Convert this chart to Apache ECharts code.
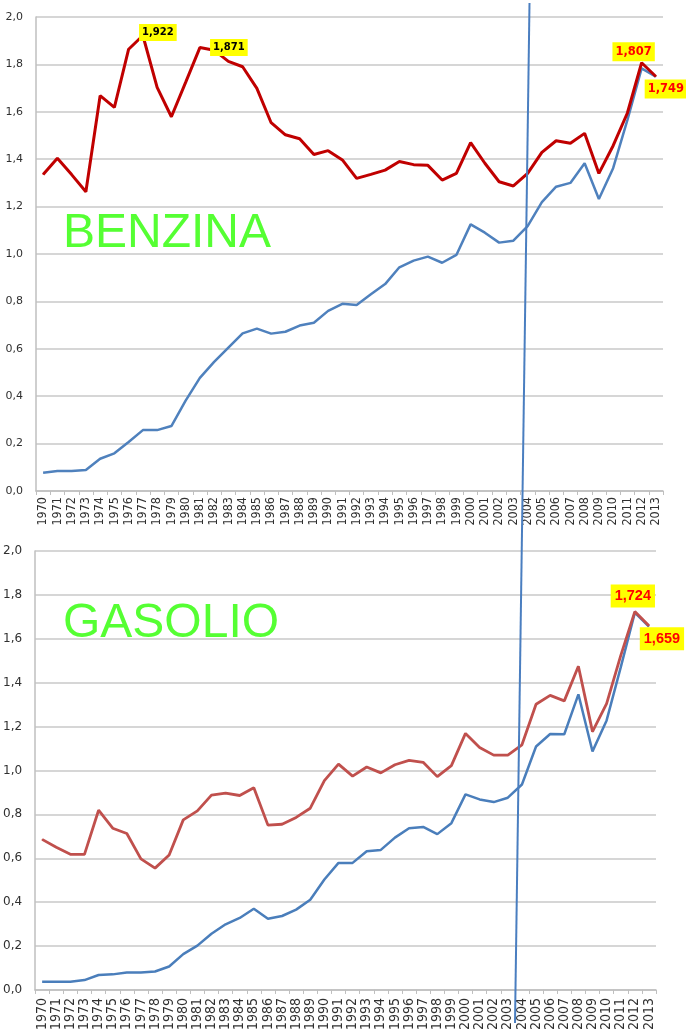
<!DOCTYPE html>
<html>
<head>
<meta charset="utf-8">
<script src="https://cdn.jsdelivr.net/npm/echarts@6/dist/echarts.min.js"></script>
<style>
html, body { margin: 0; padding: 0; background: #fff; }
#main { width: 686px; height: 1033px; }
</style>
</head>
<body>
<div id="main"></div>
<script>
// anni
var years = [];
for (var y = 1970; y <= 2013; y++) years.push(String(y));

// benzina: prezzo reale (rosso) e nominale (blu), euro/litro
var benzinaReale = [1.335, 1.404, 1.335, 1.263, 1.668, 1.619, 1.864, 1.922, 1.703, 1.579,
	1.724, 1.871, 1.860, 1.813, 1.790, 1.699, 1.554, 1.503, 1.486, 1.420,
	1.436, 1.397, 1.319, 1.336, 1.354, 1.390, 1.377, 1.374, 1.312, 1.340,
	1.470, 1.383, 1.305, 1.287, 1.340, 1.429, 1.478, 1.467, 1.509, 1.340,
	1.457, 1.595, 1.807, 1.749];
var benzinaNominale = [0.077, 0.084, 0.084, 0.089, 0.136, 0.159, 0.207, 0.257, 0.257, 0.274,
	0.381, 0.477, 0.545, 0.605, 0.665, 0.685, 0.664, 0.672, 0.698, 0.710,
	0.760, 0.790, 0.785, 0.830, 0.873, 0.944, 0.972, 0.989, 0.963, 0.996,
	1.125, 1.090, 1.048, 1.056, 1.118, 1.219, 1.284, 1.300, 1.383, 1.232,
	1.362, 1.565, 1.783, 1.748];

// gasolio
var gasolioReale = [0.686, 0.650, 0.618, 0.618, 0.819, 0.737, 0.713, 0.597, 0.555, 0.615,
	0.775, 0.816, 0.888, 0.897, 0.886, 0.921, 0.751, 0.755, 0.786, 0.828,
	0.954, 1.029, 0.974, 1.016, 0.989, 1.026, 1.046, 1.037, 0.972, 1.022,
	1.169, 1.105, 1.070, 1.070, 1.117, 1.302, 1.342, 1.317, 1.475, 1.177,
	1.305, 1.523, 1.724, 1.659];
var gasolioNominale = [0.037, 0.037, 0.037, 0.045, 0.068, 0.071, 0.080, 0.080, 0.084, 0.107,
	0.163, 0.202, 0.256, 0.299, 0.328, 0.370, 0.324, 0.337, 0.366, 0.411,
	0.503, 0.579, 0.579, 0.632, 0.638, 0.694, 0.737, 0.743, 0.710, 0.760,
	0.891, 0.868, 0.856, 0.876, 0.936, 1.109, 1.166, 1.165, 1.347, 1.087,
	1.228, 1.470, 1.719, 1.655];

// punti con etichetta gialla (indice anno)
var benzinaPicchi = [7, 11];
var benzinaFinali = [42, 43];
var gasolioFinali = [42, 43];

function fmt(v) { return v.toFixed(3).replace('.', ','); }

var labelOffsets = {
	b7: [15, -3], b11: [29, 0], b42: [-8, -11], b43: [10, 12.5],
	g42: [-2, -15.5], g43: [13, 13]
};

function withLabels(values, key, dark, red, style) {
	return values.map(function (v, i) {
		var isDark = dark.indexOf(i) >= 0, isRed = red.indexOf(i) >= 0;
		if (!isDark && !isRed) return v;
		return {
			value: v,
			label: {
				show: true,
				position: 'inside',
				offset: labelOffsets[key + i],
				formatter: fmt(v),
				backgroundColor: '#ffff00',
				color: isDark ? '#000' : '#ff0000',
				fontFamily: style.family,
				fontWeight: 'bold',
				fontSize: isDark ? style.darkSize : style.redSize,
				padding: style.padding
			}
		};
	});
}

var yFmt = function (v) { return v.toFixed(1).replace('.', ','); };
var gridColor = '#c8c8c8';

function makeX(gi, fontSize, margin) {
	return {
		type: 'category', gridIndex: gi, data: years, boundaryGap: true,
		axisLine: { lineStyle: { color: '#bfbfbf', width: 1.5 } },
		axisTick: { show: true, length: 4, lineStyle: { color: '#bfbfbf' } },
		axisLabel: {
			interval: 0, rotate: 90, margin: margin, color: '#303030',
			fontFamily: '"Liberation Sans Narrow", "DejaVu Sans Condensed", sans-serif',
			fontSize: fontSize
		},
		splitLine: { show: false }
	};
}
function makeY(gi, fontSize) {
	return {
		type: 'value', gridIndex: gi, min: 0, max: 2, interval: 0.2,
		axisLine: { show: true, lineStyle: { color: '#bfbfbf', width: 1.5 } },
		axisTick: { show: false },
		axisLabel: { formatter: yFmt, color: '#303030', fontFamily: 'DejaVu Sans', fontSize: fontSize, margin: 13 },
		splitLine: { lineStyle: { color: gridColor, width: 1.5 } }
	};
}

var chart = echarts.init(document.getElementById('main'), null, { renderer: 'canvas' });

var option = {
	animation: false,
	backgroundColor: '#fff',
	grid: [
		{ left: 36, right: 23, top: 17, height: 474 },
		{ left: 30, right: 30, top: 551, height: 443 }
	],
	xAxis: [makeX(0, 12.5, 6), makeX(1, 14, 8)],
	yAxis: [makeY(0, 11), makeY(1, 12)],
	series: [
		{
			name: 'Benzina nominale', type: 'line', xAxisIndex: 0, yAxisIndex: 0,
			data: benzinaNominale, symbol: 'none',
			lineStyle: { color: '#4f81bd', width: 2.5 }
		},
		{
			name: 'Benzina reale', type: 'line', xAxisIndex: 0, yAxisIndex: 0,
			data: withLabels(benzinaReale, 'b', benzinaPicchi, benzinaFinali,
				{ family: 'DejaVu Sans', darkSize: 10, redSize: 11.5, padding: [4, 3, 3, 3] }),
			symbol: 'circle', symbolSize: 1, showSymbol: true,
			itemStyle: { color: '#c00000' },
			lineStyle: { color: '#c00000', width: 3 }
		},
		{
			name: 'Gasolio nominale', type: 'line', xAxisIndex: 1, yAxisIndex: 1,
			data: gasolioNominale, symbol: 'none',
			lineStyle: { color: '#4a7ebb', width: 2.5 }
		},
		{
			name: 'Gasolio reale', type: 'line', xAxisIndex: 1, yAxisIndex: 1,
			data: withLabels(gasolioReale, 'g', [], gasolioFinali,
				{ family: 'Liberation Sans', darkSize: 14, redSize: 14.5, padding: [5, 4, 3, 4] }),
			symbol: 'circle', symbolSize: 1, showSymbol: true,
			itemStyle: { color: '#c0504d' },
			lineStyle: { color: '#c0504d', width: 2.8 }
		}
	],
	graphic: [
		{
			type: 'text', left: 63, top: 210, z: 10,
			style: { text: 'BENZINA', fill: '#55ff33', font: '48px "Liberation Sans", Arial, sans-serif' }
		},
		{
			type: 'text', left: 63, top: 600, z: 10,
			style: { text: 'GASOLIO', fill: '#55ff33', font: '48px "Liberation Sans", Arial, sans-serif' }
		},
		{
			type: 'line', z: 20,
			shape: { x1: 529.5, y1: 3, x2: 515, y2: 1023 },
			style: { stroke: '#4a7ec0', lineWidth: 2 }
		}
	]
};
chart.setOption(option);
</script>
</body>
</html>
